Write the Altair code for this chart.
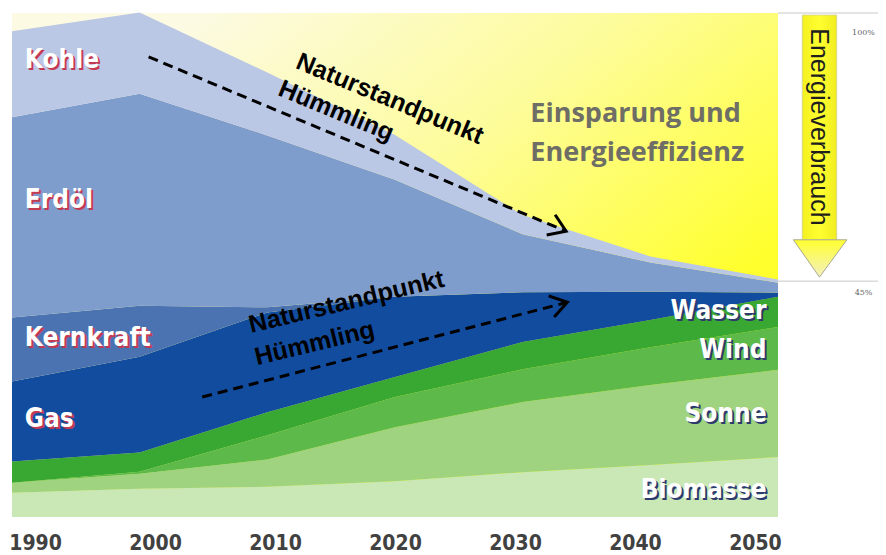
import altair as alt
import pandas as pd

# ---------------- data ----------------
years = [1990, 2000, 2010, 2020, 2030, 2040, 2050]
sources = ["Biomasse", "Sonne", "Wind", "Wasser", "Gas", "Kernkraft", "Erdöl", "Kohle"]
biomasse = [4.8, 5.6, 6.0, 7.1, 8.9, 10.3, 11.9]
sonne = [2.0, 3.0, 5.4, 10.7, 13.9, 15.9, 17.3]
wind = [0.0, 0.4, 4.8, 6.0, 6.5, 7.5, 8.5]
wasser = [4.2, 3.8, 4.6, 4.0, 5.4, 5.4, 6.0]
gas = [15.9, 19.0, 19.8, 15.9, 9.9, 5.6, 0.8]
kernkraft = [12.7, 10.1, 1.0, 0.0, 0.0, 0.0, 0.0]
erdoel = [39.7, 42.1, 34.1, 23.2, 11.5, 5.8, 2.0]
kohle = [17.1, 16.1, 12.5, 8.9, 3.8, 1.2, 0.6]
series = [biomasse, sonne, wind, wasser, gas, kernkraft, erdoel, kohle]
colors = ["#cae7b6", "#9fd37f", "#5dba4a", "#38a832", "#114c9e", "#4b73b2", "#7f9dcc", "#bac7e5"]

left_labels = ["Kohle", "Erdöl", "Kernkraft", "Gas"]
left_label_y = [90.7, 62.9, 35.5, 19.4]
right_labels = ["Wasser", "Wind", "Sonne", "Biomasse"]
right_label_y = [40.9, 33.1, 20.4, 5.4]

saving_lines = ["Einsparung und", "Energieeffizienz"]
saving_y = [80.0, 72.2]

arrow_id = ["oben", "unten"]
arrow_x0 = [2000.7, 2004.9]
arrow_y0 = [91.3, 23.8]
arrow_x1 = [2033.4, 2033.5]
arrow_y1 = [56.7, 42.6]
arrow_angle = [22.7, 345.5]
note_text = ["Naturstandpunkt", "Hümmling", "Naturstandpunkt", "Hümmling"]
note_x = [2019.6, 2015.4, 2016.2, 2013.7]
note_y = [83.0, 80.6, 42.7, 34.5]
note_angle = [22.5, 22.5, 346.5, 346.5]

consumption_pct = ["100%", "45%"]
consumption_level = [100.0, 46.8]

FONT_NARROW = "Liberation Sans Narrow, DejaVu Sans Condensed, Roboto Condensed, Roboto"

xs = alt.Scale(domain=[1990, 2050], nice=False, zero=False)
ys = alt.Scale(domain=[0, 100], nice=False, zero=False)

# ---------------- background (savings zone) ----------------
bg = pd.DataFrame({"x": [years[0]], "x2": [years[-1]], "y": [0], "y2": [100]})
yellow_grad = alt.LinearGradient(
    gradient="linear",
    stops=[alt.GradientStop(color="#fcfae2", offset=0),
           alt.GradientStop(color="#fdfc9a", offset=0.5),
           alt.GradientStop(color="#ffff2e", offset=1)],
    x1=0.25, y1=0, x2=0.92, y2=0.55)
bg_layer = alt.Chart(bg).mark_rect(fill=yellow_grad).encode(
    x=alt.X("x:Q", scale=xs, axis=None), x2="x2",
    y=alt.Y("y:Q", scale=ys, axis=None), y2="y2")

# ---------------- stacked areas ----------------
rows = []
for i, (name, vals) in enumerate(zip(sources, series)):
    for yr, v in zip(years, vals):
        rows.append({"year": yr, "source": name, "value": v, "order": i})
df = pd.DataFrame(rows)

areas = alt.Chart(df).mark_area(interpolate="linear").encode(
    x=alt.X("year:Q", scale=xs, axis=None),
    y=alt.Y("value:Q", stack="zero", scale=ys, axis=None),
    color=alt.Color("source:N", scale=alt.Scale(domain=sources, range=colors), legend=None),
    order=alt.Order("order:Q"))

# ---------------- layer labels ----------------
ldf = pd.DataFrame({"t": left_labels, "y": left_label_y, "x": [1991.0] * 4})
left_shadow = alt.Chart(ldf).mark_text(align="left", baseline="middle", font=FONT_NARROW,
                                       fontSize=26, fontWeight="bold", color="#c23a52",
                                       dx=2, dy=2).encode(
    x=alt.X("x:Q", scale=xs), y=alt.Y("y:Q", scale=ys), text="t:N")
left_text = alt.Chart(ldf).mark_text(align="left", baseline="middle", font=FONT_NARROW,
                                     fontSize=26, fontWeight="bold", color="#ffffff").encode(
    x=alt.X("x:Q", scale=xs), y=alt.Y("y:Q", scale=ys), text="t:N")

rdf = pd.DataFrame({"t": right_labels, "y": right_label_y, "x": [2049.1] * 4})
right_shadow = alt.Chart(rdf).mark_text(align="right", baseline="middle", font=FONT_NARROW,
                                        fontSize=26, fontWeight="bold", color="#2c3a6e",
                                        dx=2, dy=2).encode(
    x=alt.X("x:Q", scale=xs), y=alt.Y("y:Q", scale=ys), text="t:N")
right_text = alt.Chart(rdf).mark_text(align="right", baseline="middle", font=FONT_NARROW,
                                      fontSize=26, fontWeight="bold", color="#ffffff").encode(
    x=alt.X("x:Q", scale=xs), y=alt.Y("y:Q", scale=ys), text="t:N")

sdf = pd.DataFrame({"t": saving_lines, "y": saving_y, "x": [2030.6] * 2})
saving_text = alt.Chart(sdf).mark_text(align="left", baseline="middle", font="Open Sans",
                                       fontSize=27, fontWeight="bold", color="#6e6e66").encode(
    x=alt.X("x:Q", scale=xs), y=alt.Y("y:Q", scale=ys), text="t:N")

# ---------------- dashed arrows ----------------
arows = []
for a, x0, y0, x1, y1 in zip(arrow_id, arrow_x0, arrow_y0, arrow_x1, arrow_y1):
    arows.append({"id": a, "x": x0, "y": y0, "k": 0})
    arows.append({"id": a, "x": x1, "y": y1, "k": 1})
adf = pd.DataFrame(arows)
arrow_lines = alt.Chart(adf).mark_line(color="black", strokeWidth=3, strokeDash=[10, 6]).encode(
    x=alt.X("x:Q", scale=xs), y=alt.Y("y:Q", scale=ys), detail="id:N", order="k:Q")

hdf = pd.DataFrame({"x": arrow_x1, "y": arrow_y1, "ang": arrow_angle})
arrow_heads = alt.Chart(hdf).mark_point(shape="M-1.5,-1L0,0L-1.5,1", filled=False, stroke="black",
                                        strokeWidth=3, size=480, opacity=1).encode(
    x=alt.X("x:Q", scale=xs), y=alt.Y("y:Q", scale=ys), angle=alt.Angle("ang:Q", scale=None))

ndf = pd.DataFrame({"t": note_text, "x": note_x, "y": note_y, "ang": note_angle})
notes = alt.Chart(ndf).mark_text(align="center", baseline="middle", font="Liberation Sans",
                                 fontSize=25, fontWeight="bold", color="black").encode(
    x=alt.X("x:Q", scale=xs), y=alt.Y("y:Q", scale=ys), text="t:N",
    angle=alt.Angle("ang:Q", scale=None))

# ---------------- right side: consumption arrow ----------------
shaft = pd.DataFrame({"x": [2051.9], "x2": [2054.6], "y": [99.6], "y2": [55.0]})
shaft_grad = alt.LinearGradient(
    gradient="linear",
    stops=[alt.GradientStop(color="#f4f020", offset=0),
           alt.GradientStop(color="#ffff30", offset=0.5),
           alt.GradientStop(color="#f0ec20", offset=1)],
    x1=0, y1=0, x2=1, y2=0)
shaft_layer = alt.Chart(shaft).mark_rect(fill=shaft_grad, stroke="#cfcf9a", strokeWidth=0.8).encode(
    x=alt.X("x:Q", scale=xs), x2="x2", y=alt.Y("y:Q", scale=ys), y2="y2")

tri = pd.DataFrame({"x": [2051.2, 2053.25, 2055.4], "top": [55.0, 55.0, 55.0], "tip": [55.0, 47.6, 55.0]})
head_grad = alt.LinearGradient(
    gradient="linear",
    stops=[alt.GradientStop(color="#ffff30", offset=0),
           alt.GradientStop(color="#f3f0c0", offset=1)],
    x1=0, y1=0, x2=0, y2=1)
head_layer = alt.Chart(tri).mark_area(fill=head_grad, stroke="#a8a890", strokeWidth=1).encode(
    x=alt.X("x:Q", scale=xs), y=alt.Y("top:Q", scale=ys), y2="tip")

ev = pd.DataFrame({"t": ["Energieverbrauch"], "x": [2053.25], "y": [77.4]})
ev_text = alt.Chart(ev).mark_text(align="center", baseline="middle", font="Liberation Sans",
                                  fontSize=25, color="#1e1e1e", angle=90).encode(
    x=alt.X("x:Q", scale=xs), y=alt.Y("y:Q", scale=ys), text="t:N")

rules = pd.DataFrame({"x": [2050.0] * 2, "x2": [2058.4] * 2, "y": consumption_level})
ref_rules = alt.Chart(rules).mark_rule(color="#c8c8c8", strokeWidth=1).encode(
    x=alt.X("x:Q", scale=xs), x2="x2", y=alt.Y("y:Q", scale=ys))

pct = pd.DataFrame({"t": consumption_pct, "x": [2056.7] * 2, "y": [96.0, 44.4]})
pct_text = alt.Chart(pct).mark_text(align="center", baseline="middle", font="DejaVu Serif",
                                    fontSize=8, color="#666666").encode(
    x=alt.X("x:Q", scale=xs), y=alt.Y("y:Q", scale=ys), text="t:N")

main = alt.layer(bg_layer, areas, left_shadow, left_text, right_shadow, right_text, saving_text,
                 arrow_lines, arrow_heads, notes, shaft_layer, head_layer, ev_text,
                 ref_rules, pct_text)

# ---------------- year labels ----------------
ydf = pd.DataFrame({"year": years})
year_axis = alt.Chart(ydf).mark_point(opacity=0).encode(
    x=alt.X("year:Q",
            scale=alt.Scale(domain=[1988.08, 2051.92], nice=False, zero=False),
            axis=alt.Axis(values=years, format="d", orient="bottom", domain=False, ticks=False,
                          grid=False, labelFont=FONT_NARROW, labelFontSize=21,
                          labelFontWeight="bold", labelColor="#414141", labelPadding=15,
                          title=None)))

chart = alt.layer(main, year_axis).resolve_scale(x="independent").properties(
    width=766, height=504,
    autosize=alt.AutoSizeParams(type="none"),
    padding={"left": 4, "top": 5, "right": 100, "bottom": 40},
    background="white",
).configure_view(stroke=None)

chart.save("out.html", embed_options={"renderer": "svg", "actions": False})
